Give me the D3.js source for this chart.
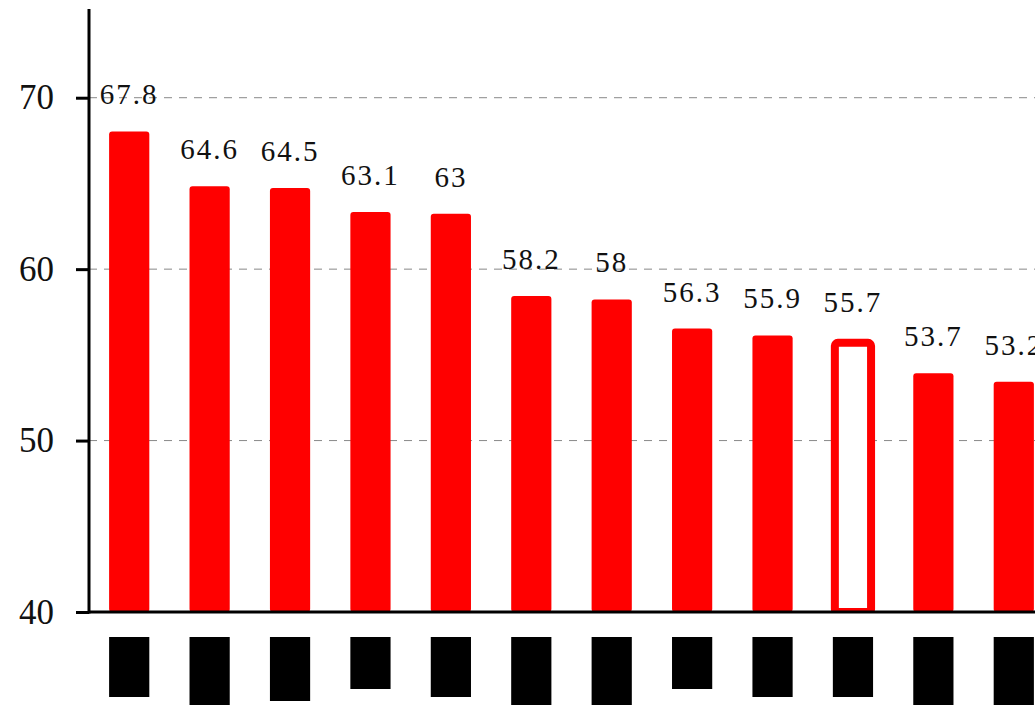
<!DOCTYPE html>
<html>
<head>
<meta charset="utf-8">
<script src="https://cdn.jsdelivr.net/npm/d3@7"></script>
<style>
  body { margin: 0; background: #fff; }
  svg { display: block; }
</style>
</head>
<body>
<svg></svg>
<script>
// category names are blacked out in the source; only their length shows
let categories = ['c1', 'c2', 'c3', 'c4', 'c5', 'c6', 'c7', 'c8', 'c9', 'c10', 'c11', 'c12']
let values = [67.8, 64.6, 64.5, 63.1, 63, 58.2, 58, 56.3, 55.9, 55.7, 53.7, 53.2]
let labelLen = [15, 18, 16, 13, 15, 18, 18, 13, 15, 15, 18, 18]
let highlight = 'c10'
let yTicks = [40, 50, 60, 70]
let gridTicks = [50, 60, 70]

let width = 1035
let height = 705
let left = 89
let bottom = 612
let serif = "'Liberation Serif', 'Times New Roman', Times, serif"

let svg = d3.select('svg')
    .attr('width', width)
    .attr('height', height)

let xScale = d3.scaleBand()
    .domain(categories)
    .range([left, 1054])
    .paddingInner(0.5)
    .paddingOuter(0.25)

let yScale = d3.scaleLinear()
    .domain([40, 75])
    .range([bottom, 12])

svg.append('defs')
    .append('clipPath')
    .attr('id', 'plot-clip')
    .append('rect')
    .attr('x', 0)
    .attr('y', 0)
    .attr('width', width)
    .attr('height', bottom)

// dashed grid
svg.append('g')
    .selectAll('line')
    .data(gridTicks)
    .enter()
    .append('line')
    .attr('x1', left)
    .attr('x2', width)
    .attr('y1', d => yScale(d))
    .attr('y2', d => yScale(d))
    .attr('stroke', '#888')
    .attr('stroke-width', 1)
    .attr('stroke-dasharray', '8,7')

// bars
let bw = xScale.bandwidth()
let isHi = i => categories[i] === highlight
svg.append('g')
    .attr('clip-path', 'url(#plot-clip)')
    .selectAll('rect')
    .data(values)
    .enter()
    .append('rect')
    .attr('x', (d, i) => isHi(i) ? xScale(categories[i]) + 2 : xScale(categories[i]))
    .attr('width', (d, i) => isHi(i) ? bw - 4 : bw)
    .attr('y', (d, i) => isHi(i) ? yScale(d) : yScale(d) - 4)
    .attr('height', (d, i) => isHi(i) ? bottom - yScale(d) : bottom - yScale(d) + 4)
    .attr('rx', 3)
    .attr('fill', (d, i) => isHi(i) ? '#fff' : '#ff0000')
    .attr('stroke', (d, i) => isHi(i) ? '#ff0000' : 'none')
    .attr('stroke-width', 8)

// value labels
svg.append('g')
    .selectAll('text')
    .data(values)
    .enter()
    .append('text')
    .attr('x', (d, i) => xScale(categories[i]) + bw / 2)
    .attr('y', d => yScale(d) - 31)
    .attr('text-anchor', 'middle')
    .style('font-family', serif)
    .style('font-size', '29px')
    .style('letter-spacing', '2px')
    .attr('fill', '#111')
    .text(d => d)

// masked category labels
svg.append('g')
    .selectAll('rect')
    .data(categories)
    .enter()
    .append('rect')
    .attr('x', d => xScale(d))
    .attr('y', 637)
    .attr('width', bw)
    .attr('height', (d, i) => labelLen[i] * 4)
    .attr('fill', '#000')

// x axis line
svg.append('line')
    .attr('x1', left)
    .attr('x2', width)
    .attr('y1', bottom)
    .attr('y2', bottom)
    .attr('stroke', '#000')
    .attr('stroke-width', 3)

// y axis
let yAxis = d3.axisLeft(yScale)
    .tickValues(yTicks)
    .tickSize(13)
    .tickSizeOuter(0)
    .tickPadding(22)

let yg = svg.append('g')
    .attr('transform', `translate(${left},0)`)
    .call(yAxis)

yg.select('.domain')
    .attr('stroke', '#000')
    .attr('stroke-width', 3)
    .attr('d', `M0,${yScale(75) - 3}V${bottom + 1.5}`)
yg.selectAll('.tick line')
    .attr('stroke', '#000')
    .attr('stroke-width', 3)
yg.selectAll('.tick text')
    .style('font-family', serif)
    .style('font-size', '35px')
    .attr('fill', '#111')
</script>
</body>
</html>
